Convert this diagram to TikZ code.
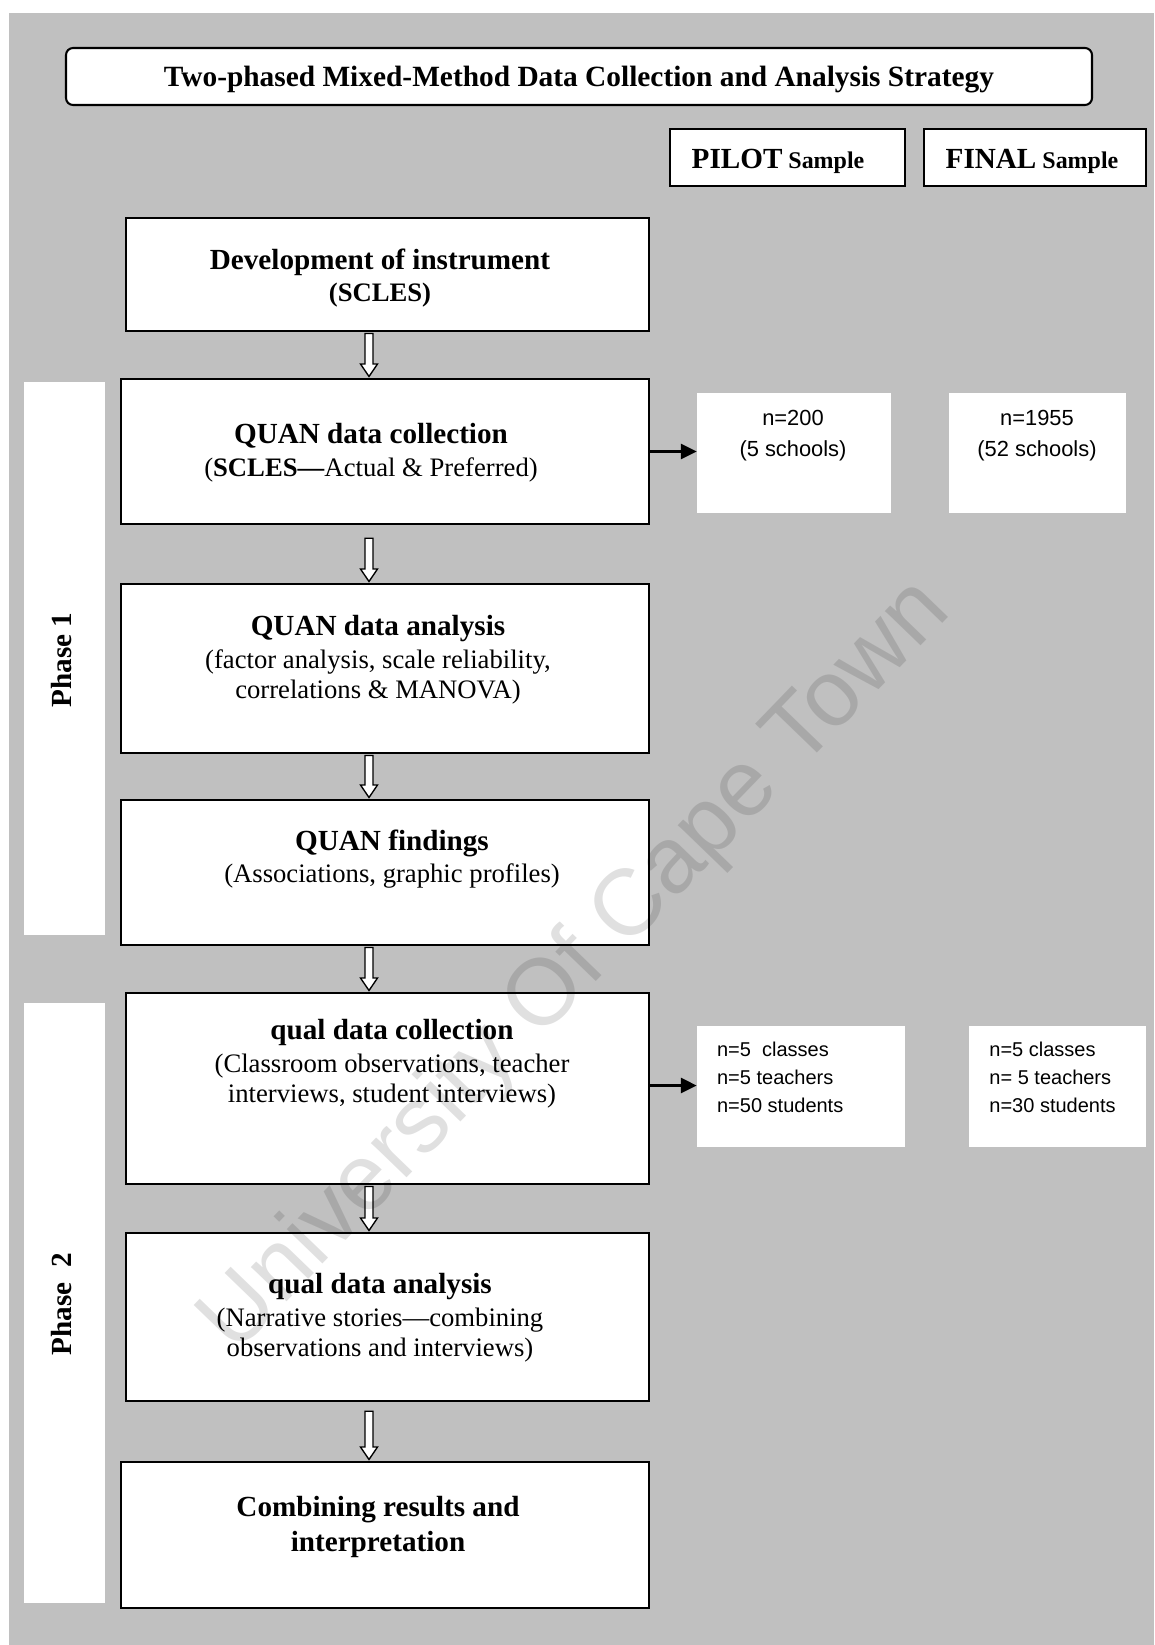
\documentclass[tikz,border=0pt]{standalone}
\usepackage{fontspec}
\setmainfont{Liberation Serif}
\newfontfamily\arialf{Liberation Sans}
\usetikzlibrary{arrows.meta,calc}
\definecolor{bggray}{RGB}{192,192,192}
\newcommand\hollowarr[2]{%
  \draw[harr] let \p1=(#1), \p2=(#2) in
    (\x1-1.92pt,\y1) -- (\x1-1.92pt,\y2+6pt) -- (\x1-4.08pt,\y2+6pt) -- (\x1,\y2)
    -- (\x1+4.08pt,\y2+6pt) -- (\x1+1.92pt,\y2+6pt) -- (\x1+1.92pt,\y1) -- cycle;}
\begin{document}
\begin{tikzpicture}[x=0.48pt,y=-0.48pt,
  sz/.style 2 args={minimum width={#1*0.48pt}, minimum height={#2*0.48pt}},
  mainbox/.style={draw, line width=1.2pt, fill=white, inner sep=0pt},
  whitebox/.style={fill=white, inner sep=0pt},
  headbox/.style={draw, line width=1pt, fill=white, inner sep=0pt},
  boxtext/.style={align=center, inner sep=0pt, font=\fontsize{12.8}{14.6}\selectfont},
  samptext/.style={align=center, inner sep=0pt, font=\arialf\fontsize{10.5}{15}\selectfont},
  samptextl/.style={align=left, inner sep=0pt, anchor=west, font=\arialf\fontsize{9.6}{13.4}\selectfont},
  phasetext/.style={rotate=90, inner sep=0pt, font=\fontsize{14}{16}\selectfont\bfseries},
  harr/.style={draw=black, line width=0.65pt, fill=white},
  barr/.style={line width=1pt, -{Triangle[length=7.5pt,width=7.2pt]}}]
\useasboundingbox (0,0) rectangle (1154,1645);
\fill[white] (0,0) rectangle (1154,1645);
\fill[bggray] (9,13) rectangle (1154,1645);

% title
\node[headbox, rounded corners=3.4pt, sz={1026}{57}] (title) at (579,76.5) {};
\node[inner sep=0pt, font=\fontsize{14.1}{16}\selectfont\bfseries] (ttitle) at (579,79.5)
  {Two-phased Mixed-Method Data Collection and Analysis Strategy};

% sample headers
\node[headbox, sz={235}{57}] (pilot) at (787.5,157.5) {};
\node[inner sep=0pt, font=\fontsize{11.5}{14}\selectfont\bfseries] (tpilot) at (778,161)
  {{\fontsize{14}{16}\selectfont PILOT} Sample};
\node[headbox, sz={222}{57}] (final) at (1035,157.5) {};
\node[inner sep=0pt, font=\fontsize{11.5}{14}\selectfont\bfseries] (tfinal) at (1032,161)
  {{\fontsize{14}{16}\selectfont FINAL} Sample};

% phase strips
\node[whitebox, sz={81}{553}] (ph1) at (64.5,658.5) {};
\node[phasetext] (tph1) at (62,660) {Phase 1};
\node[whitebox, sz={81}{600}] (ph2) at (64.5,1303) {};
\node[phasetext] (tph2) at (62,1304) {Phase~~2};

% main boxes
\node[mainbox, sz={523}{113}] (b1) at (387.5,274.5) {};
\node[mainbox, sz={528}{145}] (b2) at (385,451.5) {};
\node[mainbox, sz={528}{169}] (b3) at (385,668.5) {};
\node[mainbox, sz={528}{145}] (b4) at (385,872.5) {};
\node[mainbox, sz={523}{191}] (b5) at (387.5,1088.5) {};
\node[mainbox, sz={523}{168}] (b6) at (387.5,1317) {};
\node[mainbox, sz={528}{146}] (b7) at (385,1535) {};

\node[boxtext] (t1) at (380,278)
  {{\fontsize{14}{16}\selectfont\bfseries Development of instrument}\\[1pt]{\bfseries (SCLES)}};
\node[boxtext] (t2) at (371,452.5)
  {{\fontsize{14}{16}\selectfont\bfseries QUAN data collection}\\[1pt](\textbf{SCLES—}Actual \& Preferred)};
\node[boxtext] (t3) at (378,660)
  {{\fontsize{14}{16}\selectfont\bfseries QUAN data analysis}\\[1pt](factor analysis, scale reliability,\\correlations \& MANOVA)};
\node[boxtext] (t4) at (392,859)
  {{\fontsize{14}{16}\selectfont\bfseries QUAN findings}\\[1pt](Associations, graphic profiles)};
\node[boxtext] (t5) at (392,1064)
  {{\fontsize{14}{16}\selectfont\bfseries qual data collection}\\[1pt](Classroom observations, teacher\\interviews, student interviews)};
\node[boxtext] (t6) at (380,1318)
  {{\fontsize{14}{16}\selectfont\bfseries qual data analysis}\\[1pt](Narrative stories—combining\\observations and interviews)};
\node[boxtext, font=\fontsize{14}{16.8}\selectfont\bfseries] (t7) at (378,1526.5)
  {Combining results and\\interpretation};

% sample boxes
\node[whitebox, sz={194}{120}] (s1) at (794,453) {};
\node[samptext] (ts1) at (793,436) {n=200\\(5 schools)};
\node[whitebox, sz={177}{120}] (s2) at (1037.5,453) {};
\node[samptext] (ts2) at (1037,436) {n=1955\\(52 schools)};
\node[whitebox, sz={208}{121}] (s3) at (801,1086.5) {};
\node[samptextl] (ts3) at (716.7,1077.5) {n=5\ \ classes\\n=5 teachers\\n=50 students};
\node[whitebox, sz={177}{121}] (s4) at (1057.5,1086.5) {};
\node[samptextl] (ts4) at (989,1077.5) {n=5 classes\\n= 5 teachers\\n=30 students};

% hollow arrows
\coordinate (ax) at (369,0);
\hollowarr{$(b1.south -| ax)+(0,1.25)$}{$(b2.north -| ax)+(0,-1.25)$}
\hollowarr{$(b2.south -| ax)+(0,13)$}{$(b3.north -| ax)+(0,-1.25)$}
\hollowarr{$(b3.south -| ax)+(0,1.25)$}{$(b4.north -| ax)+(0,-1.25)$}
\hollowarr{$(b4.south -| ax)+(0,1.25)$}{$(b5.north -| ax)+(0,-1.25)$}
\hollowarr{$(b5.south -| ax)+(0,1.25)$}{$(b6.north -| ax)+(0,-1.25)$}
\hollowarr{$(b6.south -| ax)+(0,9)$}{$(b7.north -| ax)+(0,-1.25)$}

% black arrows
\draw[barr] (b2.east) -- (b2.east -| s1.west);
\coordinate (q5) at ($(b5.east)+(0,-3)$);
\draw[barr] (q5) -- (q5 -| s3.west);

% watermark
\node[font=\arialf\fontsize{45}{45}\selectfont, text=black, text opacity=0.12,
  rotate=46, anchor=base, inner sep=0pt] (wm) at (594,984) {University Of Cape Town};
\end{tikzpicture}
\end{document}
